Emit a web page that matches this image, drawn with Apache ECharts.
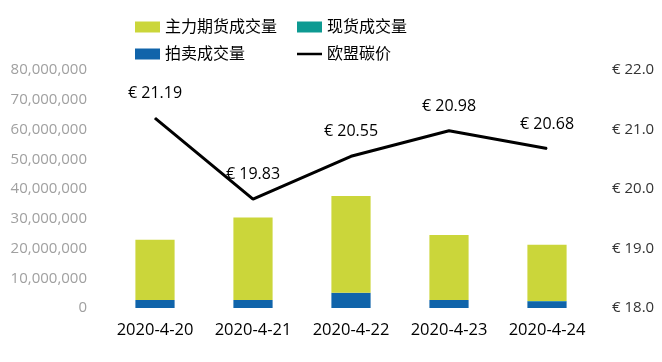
<!DOCTYPE html>
<html><head><meta charset="utf-8">
<script src="https://cdn.jsdelivr.net/npm/echarts@6/dist/echarts.min.js"></script>
<style>html,body{margin:0;padding:0;background:#fff}#c{width:662px;height:362px}</style>
</head><body><div id="c"></div>
<script>
const categories = ['2020-4-20','2020-4-21','2020-4-22','2020-4-23','2020-4-24'];
const futuresVolume = [20200000, 27700000, 32500000, 21800000, 18900000];
const spotVolume = [30000, 30000, 40000, 30000, 30000];
const auctionVolume = [2700000, 2700000, 5100000, 2700000, 2300000];
const euaPrice = [21.19, 19.83, 20.55, 20.98, 20.68];
const names = ['主力期货成交量','现货成交量','拍卖成交量','欧盟碳价'];
const colors = {futures:'#CBD63A', spot:'#0E9A92', auction:'#1064AA', price:'#000000'};
const font = '"Open Sans","Noto Sans CJK SC",sans-serif';

const chart = echarts.init(document.getElementById('c'));
function lg(name, left, top, icon) {
  return {data:[{name:name, icon:icon}], left:left, top:top, itemWidth:25, itemHeight:icon==='rect'?11:3,
    itemGap:0, padding:0, textStyle:{fontSize:16, color:'#000', fontFamily:font}};
}
chart.setOption({
  animation:false,
  textStyle:{fontFamily:font},
  legend:[
    lg(names[0],135,19,'rect'),
    lg(names[1],297,19,'rect'),
    lg(names[2],135,46,'rect'),
    lg(names[3],297,46,'path://M0,0H10V1H0Z')
  ],
  grid:{left:106, right:66, top:70, bottom:54},
  xAxis:{type:'category', data:categories, axisLine:{show:false}, axisTick:{show:false},
    axisLabel:{fontSize:16.5, color:'#000', margin:14, fontFamily:font, interval:0, hideOverlap:false}},
  yAxis:[
    {type:'value', min:0, max:80000000, interval:10000000, splitLine:{show:false},
     axisLine:{show:false}, axisTick:{show:false},
     axisLabel:{fontSize:15, color:'#a0a0a0', margin:19, fontFamily:font,
       formatter:v=>v.toLocaleString('en-US')}},
    {type:'value', min:18, max:22, interval:1, splitLine:{show:false},
     axisLine:{show:false}, axisTick:{show:false},
     axisLabel:{fontSize:15, color:'#333', margin:16, fontFamily:font,
       formatter:v=>'€ '+v.toFixed(1)}}
  ],
  series:[
    {name:names[2], type:'bar', stack:'v', data:auctionVolume, barWidth:'40%', itemStyle:{color:colors.auction}},
    {name:names[1], type:'bar', stack:'v', data:spotVolume, itemStyle:{color:colors.spot}},
    {name:names[0], type:'bar', stack:'v', data:futuresVolume, itemStyle:{color:colors.futures}},
    {name:names[3], type:'line', yAxisIndex:1, data:euaPrice, symbol:'circle', symbolSize:1, showSymbol:true,
     lineStyle:{color:colors.price, width:3}, itemStyle:{color:colors.price},
     label:{show:true, position:'top', distance:16, fontSize:16, color:'#000', fontFamily:font,
       formatter:p=>'€ '+p.value.toFixed(2)}}
  ]
});
</script></body></html>
